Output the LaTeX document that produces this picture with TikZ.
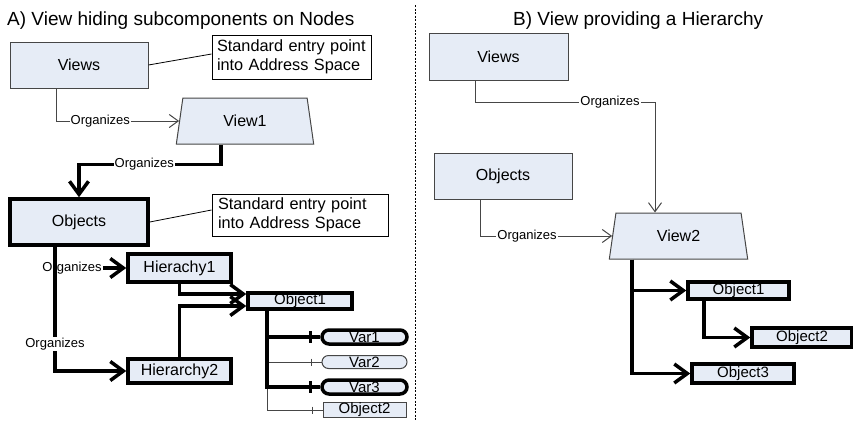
\documentclass[tikz,border=0pt]{standalone}
\usepackage{fontspec}
\setmainfont{Liberation Sans}
\usetikzlibrary{arrows.meta,shapes.geometric}
\definecolor{boxblue}{RGB}{230,236,246}
\definecolor{edgegray}{RGB}{70,70,70}
\begin{document}
\begin{tikzpicture}[x=1pt,y=-1pt,
  thinbox/.style={draw=edgegray,line width=1pt,fill=boxblue,inner sep=0pt,font=\fontsize{16}{18}\selectfont},
  thickbox/.style={draw=black,line width=3.5pt,fill=boxblue,inner sep=0pt,font=\fontsize{16}{18}\selectfont},
  smallthick/.style={draw=black,line width=3.5pt,fill=boxblue,inner sep=0pt,font=\fontsize{15}{16}\selectfont},
  smallthin/.style={draw=edgegray,line width=1pt,fill=boxblue,inner sep=0pt,font=\fontsize{15}{16}\selectfont},
  trap/.style={trapezium,trapezium stretches=true,trapezium left angle=79,trapezium right angle=79,
    draw=edgegray,line width=1pt,fill=boxblue,inner sep=0pt,minimum width=138pt,minimum height=46pt,
    font=\fontsize{16}{18}\selectfont},
  callout/.style={draw=black,line width=1pt,fill=white,inner xsep=5pt,inner ysep=0pt,align=left,
    font=\fontsize{16.3}{19}\selectfont},
  thinline/.style={draw=edgegray,line width=1pt},
  thickline/.style={draw=black,line width=3.5pt},
  thinarrow/.style={thinline,-{Straight Barb[length=9pt,width=13pt]}},
  thickarrow/.style={thickline,-{Straight Barb[length=13pt,width=19pt]}},
  lbl/.style={fill=white,inner sep=1pt,font=\fontsize{13}{14}\selectfont},
  ttl/.style={anchor=base west,inner sep=0pt,font=\fontsize{19}{22}\selectfont}
]
\useasboundingbox (0,0) rectangle (853,421);

% titles
\node[ttl] (titleA) at (7,25.7) {A) View hiding subcomponents on Nodes};
\node[ttl] (titleB) at (513,25.7) {B) View providing a Hierarchy};

% divider
\coordinate (divtop) at (415.5,5);
\coordinate (divbot) at (415.5,421);
\draw[line width=1pt,dash pattern=on 2pt off 1.5pt] (divtop) -- (divbot);

% ---------- Panel A ----------
\node[thinbox,minimum width=138pt,minimum height=46pt] (viewsA) at (79,65) {Views};
\node[callout,text width=149pt,minimum height=44pt] (call1) at (291.5,57) {Standard entry point\\into Address Space};
\node[trap] (view1) at (245,121) {View1};
\node[thickbox,minimum width=138pt,minimum height=46pt] (objA) at (79,222) {Objects};
\node[callout,inner xsep=6pt,text width=164pt,minimum height=42pt] (call2) at (300,215) {Standard entry point\\into Address Space};
\node[smallthick,minimum width=103pt,minimum height=28pt,font=\fontsize{16}{18}\selectfont] (hier1) at (179.5,268) {Hierachy1};
\node[smallthick,minimum width=103pt,minimum height=24pt,font=\fontsize{16}{18}\selectfont] (hier2) at (179.5,371) {Hierarchy2};
\node[smallthick,minimum width=104pt,minimum height=16pt] (objA1) at (300,301) {Object1};
\node[smallthick,rounded corners=7pt,minimum width=85pt,minimum height=14pt] (var1) at (364.5,337) {Var1};
\node[smallthin,rounded corners=6.5pt,minimum width=85pt,minimum height=13pt] (var2) at (364.5,362) {Var2};
\node[smallthick,rounded corners=7pt,minimum width=85pt,minimum height=14pt] (var3) at (364.5,387) {Var3};
\node[smallthin,minimum width=83pt,minimum height=15pt] (objA2) at (364.5,410) {Object2};

% callout lines
\draw[line width=0.8pt] (viewsA.east) -- ([yshift=3]call1.west);
\draw[line width=0.8pt] (objA.east) -- ([yshift=5]call2.west);

% Views -> View1
\draw[thinarrow] ([xshift=-23]viewsA.south) |- node[lbl,pos=0.68]{Organizes} (view1.west);
% View1 -> Objects
\draw[thickarrow] ([xshift=-24]view1.south) -- ++(0,20) -| node[lbl,pos=0.27]{Organizes} (objA.north);
% Objects -> Hierachy1
\draw[thickarrow] ([xshift=-24]objA.south) |- node[lbl,pos=0.62]{Organizes} (hier1.west);
% Objects -> Hierarchy2
\draw[thickarrow] ([xshift=-24]objA.south) |- node[lbl,pos=0.39]{Organizes} (hier2.west);
% Hierarchies -> Object1
\draw[thickarrow] (hier1.south) |- ([yshift=7]objA1.west);
\draw[thickarrow] (hier2.north) |- ([yshift=-5]objA1.west);

% Object1 children
\draw[thinline] ([xshift=-33]objA1.south) |- (var2.west);
\draw[thinline] ([xshift=-33]objA1.south) |- (objA2.west);
\draw[thickline] ([xshift=-33]objA1.south) |- (var1.west);
\draw[thickline] ([xshift=-33]objA1.south) |- (var3.west);
\draw[line width=3pt] ([xshift=-10,yshift=6]var1.west) -- ([xshift=-10,yshift=-6]var1.west);
\draw[line width=3pt] ([xshift=-10,yshift=6]var3.west) -- ([xshift=-10,yshift=-6]var3.west);
\draw[thinline] ([xshift=-10,yshift=3.5]var2.west) -- ([xshift=-10,yshift=-3.5]var2.west);
\draw[thinline] ([xshift=-10,yshift=3.5]objA2.west) -- ([xshift=-10,yshift=-3.5]objA2.west);

% ---------- Panel B ----------
\node[thinbox,minimum width=139pt,minimum height=47pt] (viewsB) at (498.5,56.5) {Views};
\node[thinbox,minimum width=138pt,minimum height=46pt] (objB) at (503,176) {Objects};
\node[trap,minimum width=139pt] (view2) at (678.5,236) {View2};
\node[smallthick,minimum width=101pt,minimum height=17pt] (objB1) at (738.5,290.5) {Object1};
\node[smallthick,minimum width=100pt,minimum height=19pt] (objB2) at (802,337.5) {Object2};
\node[smallthick,minimum width=102pt,minimum height=19pt] (objB3) at (743,373.5) {Object3};

\draw[thinarrow] ([xshift=-23.5]viewsB.south) -- ++(0,22) -| node[lbl,pos=0.375]{Organizes} ([xshift=-23.5]view2.north);
\draw[thinarrow] ([xshift=-23]objB.south) |- node[lbl,pos=0.678]{Organizes} (view2.west);
\draw[thickarrow] ([xshift=-46.5]view2.south) |- (objB1.west);
\draw[thickarrow] ([xshift=-46.5]view2.south) |- (objB3.west);
\draw[thickarrow] ([xshift=-34.5]objB1.south) |- (objB2.west);
\end{tikzpicture}
\end{document}
